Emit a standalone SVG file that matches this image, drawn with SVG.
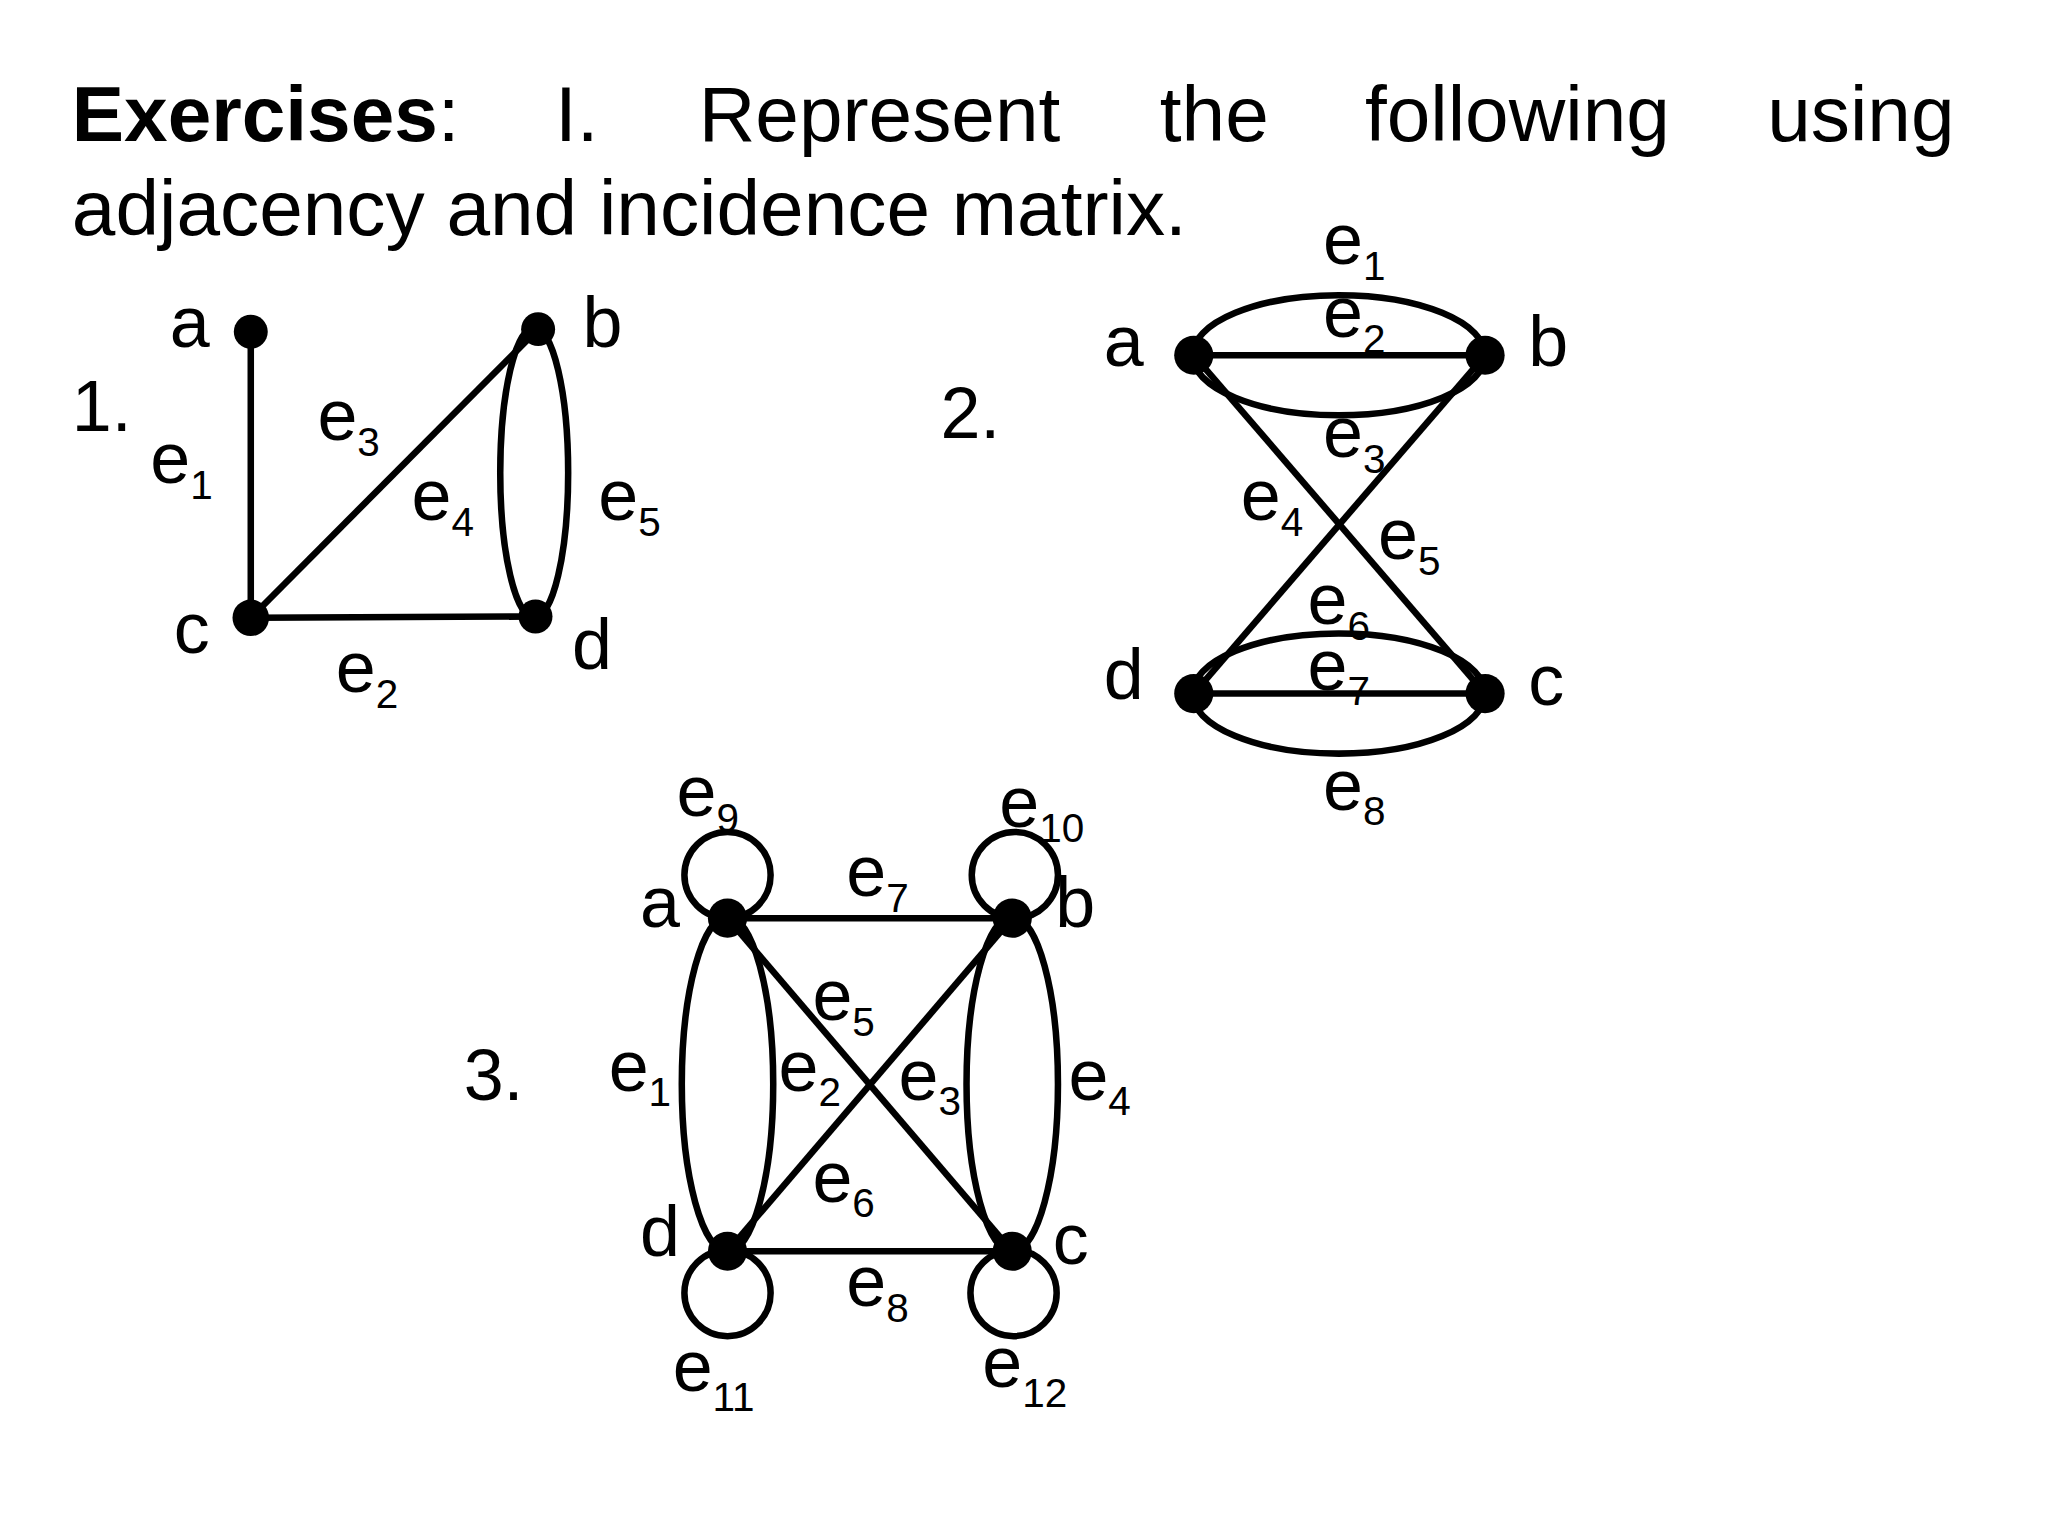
<svg xmlns="http://www.w3.org/2000/svg" width="2048" height="1536" viewBox="0 0 2048 1536">
<style>
text{font-family:"Liberation Sans",Arial,sans-serif;fill:#000}
.t{font-size:60px}
.l{font-size:55px}
.s{font-size:31px}
.e{fill:none;stroke:#000;stroke-width:5}
.n{fill:#000}
</style>
<rect width="2048" height="1536" fill="#fff"/>
<g transform="scale(1.30612)">
<g id="title">
<text class="t" x="55" y="108"><tspan font-weight="bold">Exercises</tspan>:</text>
<text class="t" x="425" y="108">I.</text>
<text class="t" x="535" y="108">Represent</text>
<text class="t" x="888" y="108">the</text>
<text class="t" x="1045" y="108">following</text>
<text class="t" x="1353" y="108">using</text>
<text class="t" x="55" y="180">adjacency and incidence matrix.</text>
</g>
<g id="connectors">
<line class="e" x1="192" y1="254" x2="192" y2="473"/>
<line class="e" x1="192" y1="473" x2="412" y2="252"/>
<line class="e" x1="192" y1="473" x2="410" y2="472"/>
<ellipse class="e" cx="409" cy="362" rx="26" ry="111"/>
<ellipse class="e" cx="1025" cy="272" rx="112" ry="46"/>
<line class="e" x1="914" y1="272" x2="1137" y2="272"/>
<line class="e" x1="914" y1="272" x2="1137" y2="531"/>
<line class="e" x1="1137" y1="272" x2="914" y2="531"/>
<ellipse class="e" cx="1025" cy="531" rx="112" ry="46"/>
<line class="e" x1="914" y1="531" x2="1137" y2="531"/>
<circle class="e" cx="557" cy="670" r="33"/>
<circle class="e" cx="777" cy="670" r="33"/>
<circle class="e" cx="557" cy="990" r="33"/>
<circle class="e" cx="776" cy="990" r="33"/>
<ellipse class="e" cx="557" cy="830" rx="35" ry="128"/>
<ellipse class="e" cx="775" cy="830" rx="35" ry="128"/>
<line class="e" x1="557" y1="703" x2="775" y2="703"/>
<line class="e" x1="557" y1="958" x2="775" y2="958"/>
<line class="e" x1="557" y1="703" x2="775" y2="958"/>
<line class="e" x1="775" y1="703" x2="557" y2="958"/>
</g>
<g id="g1">
<circle class="n" cx="192" cy="254" r="13"/><circle class="n" cx="412" cy="252" r="13"/>
<circle class="n" cx="192" cy="473" r="14"/><circle class="n" cx="410" cy="472" r="13"/>
<text class="l" x="130" y="266">a</text><text class="l" x="446" y="266">b</text>
<text class="l" x="133" y="500">c</text><text class="l" x="438" y="512">d</text>
<text class="l" x="55" y="330">1.</text>
<text class="l" x="115" y="370">e<tspan class="s" dy="12">1</tspan></text>
<text class="l" x="243" y="337">e<tspan class="s" dy="12">3</tspan></text>
<text class="l" x="315" y="398">e<tspan class="s" dy="12">4</tspan></text>
<text class="l" x="458" y="398">e<tspan class="s" dy="12">5</tspan></text>
<text class="l" x="257" y="530">e<tspan class="s" dy="12">2</tspan></text>
</g>
<g id="g2">
<circle class="n" cx="914" cy="272" r="15"/><circle class="n" cx="1137" cy="272" r="15"/>
<circle class="n" cx="914" cy="531" r="15"/><circle class="n" cx="1137" cy="531" r="15"/>
<text class="l" x="845" y="280">a</text><text class="l" x="1170" y="280">b</text>
<text class="l" x="845" y="535">d</text><text class="l" x="1170" y="540">c</text>
<text class="l" x="720" y="335">2.</text>
<text class="l" x="1013" y="202">e<tspan class="s" dy="12">1</tspan></text>
<text class="l" x="1013" y="258">e<tspan class="s" dy="12">2</tspan></text>
<text class="l" x="1013" y="350">e<tspan class="s" dy="12">3</tspan></text>
<text class="l" x="950" y="398">e<tspan class="s" dy="12">4</tspan></text>
<text class="l" x="1055" y="428">e<tspan class="s" dy="12">5</tspan></text>
<text class="l" x="1001" y="478">e<tspan class="s" dy="12">6</tspan></text>
<text class="l" x="1001" y="528">e<tspan class="s" dy="12">7</tspan></text>
<text class="l" x="1013" y="620">e<tspan class="s" dy="12">8</tspan></text>
</g>
<g id="g3">
<circle class="n" cx="557" cy="703" r="15"/><circle class="n" cx="775" cy="703" r="15"/>
<circle class="n" cx="557" cy="958" r="15"/><circle class="n" cx="775" cy="958" r="15"/>
<text class="l" x="490" y="710">a</text><text class="l" x="808" y="710">b</text>
<text class="l" x="490" y="962">d</text><text class="l" x="806" y="968">c</text>
<text class="l" x="355" y="842">3.</text>
<text class="l" x="518" y="625">e<tspan class="s" dy="12">9</tspan></text>
<text class="l" x="765" y="633">e<tspan class="s" dy="12">10</tspan></text>
<text class="l" x="648" y="686">e<tspan class="s" dy="12">7</tspan></text>
<text class="l" x="622" y="781">e<tspan class="s" dy="12">5</tspan></text>
<text class="l" x="466" y="835">e<tspan class="s" dy="12">1</tspan></text>
<text class="l" x="596" y="835">e<tspan class="s" dy="12">2</tspan></text>
<text class="l" x="688" y="842">e<tspan class="s" dy="12">3</tspan></text>
<text class="l" x="818" y="842">e<tspan class="s" dy="12">4</tspan></text>
<text class="l" x="622" y="920">e<tspan class="s" dy="12">6</tspan></text>
<text class="l" x="648" y="1000">e<tspan class="s" dy="12">8</tspan></text>
<text class="l" x="515" y="1065">e<tspan class="s" dy="15">11</tspan></text>
<text class="l" x="752" y="1062">e<tspan class="s" dy="15">12</tspan></text>
</g>
</g>
</svg>
